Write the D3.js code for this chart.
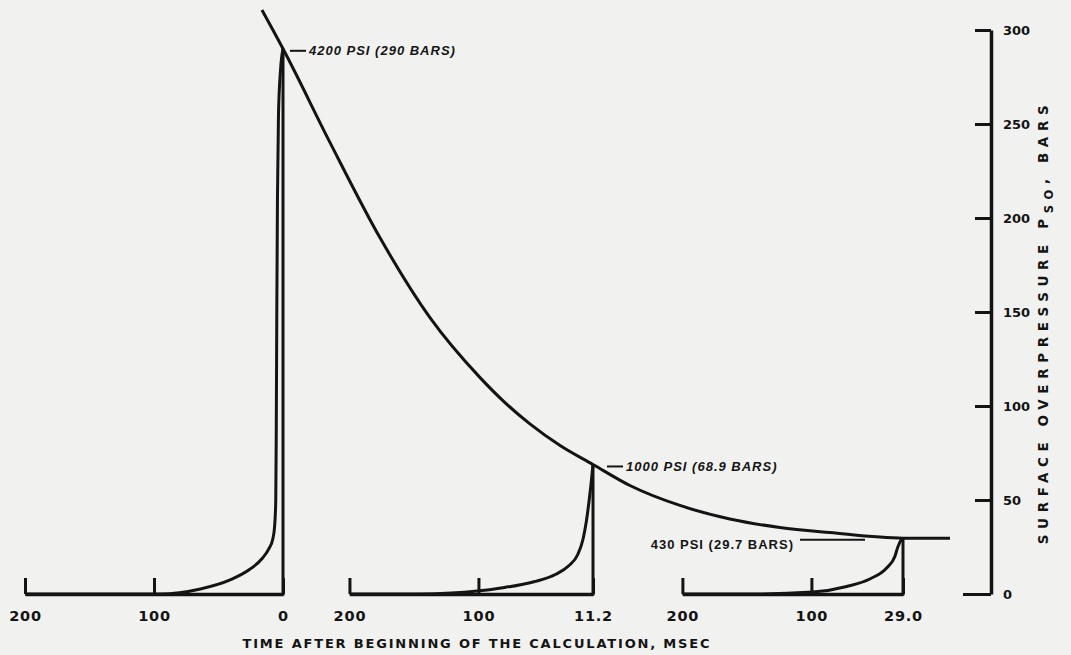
<!DOCTYPE html>
<meta charset="utf-8">
<style>
body { margin: 0; background: #f1f1ef; }
svg { display: block; }
.lbl { font-family: "DejaVu Sans", sans-serif; font-weight: bold; fill: #141414; }
.note { font-family: "Liberation Sans", Arial, sans-serif; font-weight: bold; font-size: 13px; fill: #141414; letter-spacing: 1px; }
</style>
<svg id="svg" width="1071" height="655"></svg>
<script src="https://cdnjs.cloudflare.com/ajax/libs/d3/7.8.5/d3.min.js"></script>
<script>
// peak arrival times (msec after beginning of calculation) and peak overpressure (bars)
var peakTimes = [0, 11.2, 29.0];
var peakBars = [290, 68.9, 29.7];
var peakLabels = ["4200 PSI (290 BARS)", "1000 PSI (68.9 BARS)", "430 PSI (29.7 BARS)"];

// tick labels of the three time axes and of the pressure axis
var timeTicks = [[200, 100, 0], [200, 100, 11.2], [200, 100, 29.0]];
var timeTickText = [["200", "100", "0"], ["200", "100", "11.2"], ["200", "100", "29.0"]];
var pressureTicks = [0, 50, 100, 150, 200, 250, 300];

// pressure history at each station  [msec, bars]
var pulse1 = [[200, 0], [95, 0], [64, 2.7], [41, 7.5], [26, 13], [16, 19], [11, 24], [8, 29],
    [6.5, 36], [5.6, 50], [5.2, 90], [4.8, 150], [4.3, 210], [3.5, 255], [2, 278], [0, 290]];
var pulse2 = [[200, 0], [145, 0], [121, 0.5], [82.5, 3.2], [57, 6.5], [40, 10.5], [30, 15],
    [23, 21], [19, 29], [16.5, 38], [14.5, 48], [12.8, 58], [11.2, 68.9]];
var pulse3 = [[200, 0], [140, 0], [99, 1], [72.6, 4], [54.7, 8], [41.5, 14], [35.3, 20],
    [33, 25], [30.6, 28.5], [29, 29.7]];

// peak overpressure envelope  [msec, bars]
var envelope = [[-0.76, 310.6], [0, 290], [1.7, 240.1], [3.5, 189.6], [5.31, 147], [7.12, 115.1],
    [8.02, 101.8], [8.92, 90.5], [10.01, 79.0], [11.2, 68.9], [13.32, 57.7], [16.19, 47.1],
    [19.06, 39.9], [21.93, 35.4], [24.8, 32.7], [29, 29.7], [31.7, 29.6]];

var pulses = [pulse1, pulse2, pulse3];

var svg = d3.select("svg");
var ink = "#141414";

// layout
var peakX = [283, 593, 903];
var pxPerMs = 1.29;
var noteDx = [26, 33];

var y = d3.scaleLinear().domain([0, 300]).range([594, 30]);

var xEnv = d3.scaleLinear().domain(peakTimes).range(peakX);

var line = d3.line().curve(d3.curveMonotoneX);

pulses.forEach(function(pulse, i) {
    var t0 = peakTimes[i];
    var x = d3.scaleLinear()
        .domain([200, t0])
        .range([peakX[i] - (200 - t0) * pxPerMs, peakX[i]]);

    var axis = svg.append("g")
        .attr("transform", "translate(0," + y(0) + ")")
        .call(d3.axisBottom(x)
            .tickValues(timeTicks[i])
            .tickFormat(function(d, j) { return timeTickText[i][j]; })
            .tickSizeInner(-16)
            .tickSizeOuter(0)
            .tickPadding(17));
    axis.select(".domain").attr("stroke", ink).attr("stroke-width", 3.5);
    axis.selectAll(".tick line").attr("stroke", ink).attr("stroke-width", 3);
    axis.selectAll(".tick text")
        .attr("class", "lbl")
        .attr("font-size", 14.5)
        .attr("font-family", null)
        .style("letter-spacing", "0.8px");

    // vertical at peak time
    svg.append("line")
        .attr("x1", x(t0)).attr("x2", x(t0))
        .attr("y1", y(0) + 1.5).attr("y2", y(peakBars[i]))
        .attr("stroke", ink).attr("stroke-width", 3);

    svg.append("path")
        .attr("d", line(pulse.map(function(d) { return [x(d[0]), y(d[1])]; })))
        .attr("fill", "none")
        .attr("stroke", ink)
        .attr("stroke-width", 3);
});

// envelope
svg.append("path")
    .attr("d", line(envelope.map(function(d) { return [xEnv(d[0]), y(d[1])]; })))
    .attr("fill", "none")
    .attr("stroke", ink)
    .attr("stroke-width", 3);

// peak notes
[0, 1].forEach(function(i) {
    var px = xEnv(peakTimes[i]), py = y(peakBars[i]) + 2;
    svg.append("line")
        .attr("x1", px + noteDx[i] - 19).attr("x2", px + noteDx[i] - 3)
        .attr("y1", py).attr("y2", py)
        .attr("stroke", ink).attr("stroke-width", 2);
    svg.append("text")
        .attr("class", "note")
        .attr("x", px + noteDx[i])
        .attr("y", py + 4.5)
        .style("font-style", "italic")
        .text(peakLabels[i]);
});
(function() {
    var px = xEnv(peakTimes[2]), py = y(peakBars[2]) + 1.5;
    svg.append("line")
        .attr("x1", px - 103).attr("x2", px - 38)
        .attr("y1", py).attr("y2", py)
        .attr("stroke", ink).attr("stroke-width", 2);
    svg.append("text")
        .attr("class", "note")
        .attr("x", px - 109)
        .attr("y", py + 9)
        .attr("text-anchor", "end")
        .text(peakLabels[2]);
})();

// pressure axis on the right
var yAxis = svg.append("g")
    .attr("transform", "translate(991,0)")
    .call(d3.axisRight(y)
        .tickValues(pressureTicks)
        .tickSizeInner(-16)
        .tickSizeOuter(0)
        .tickPadding(12));
yAxis.select(".domain").attr("stroke", ink).attr("stroke-width", 3.5);
yAxis.selectAll(".tick line").attr("stroke", ink).attr("stroke-width", 3)
    .attr("x2", function(d) { return d === 0 ? -28 : -16; });
yAxis.selectAll(".tick text")
    .attr("class", "lbl")
    .attr("font-size", 13)
    .attr("font-family", null);

// axis titles
svg.append("text")
    .attr("class", "lbl")
    .attr("x", 476)
    .attr("y", 648)
    .attr("text-anchor", "middle")
    .attr("font-size", 13)
    .attr("textLength", 467)
    .attr("lengthAdjust", "spacing")
    .text("TIME AFTER BEGINNING OF THE CALCULATION, MSEC");

var ytitle = svg.append("text")
    .attr("class", "lbl")
    .attr("transform", "translate(1048,322) rotate(-90)")
    .attr("text-anchor", "middle")
    .attr("font-size", 13.5)
    .style("letter-spacing", "5.6px");
ytitle.append("tspan").text("SURFACE OVERPRESSURE P");
ytitle.append("tspan").attr("font-size", 11.5).attr("dy", 5).text("SO");
ytitle.append("tspan").attr("dy", -5).text(",  BARS");
</script>
